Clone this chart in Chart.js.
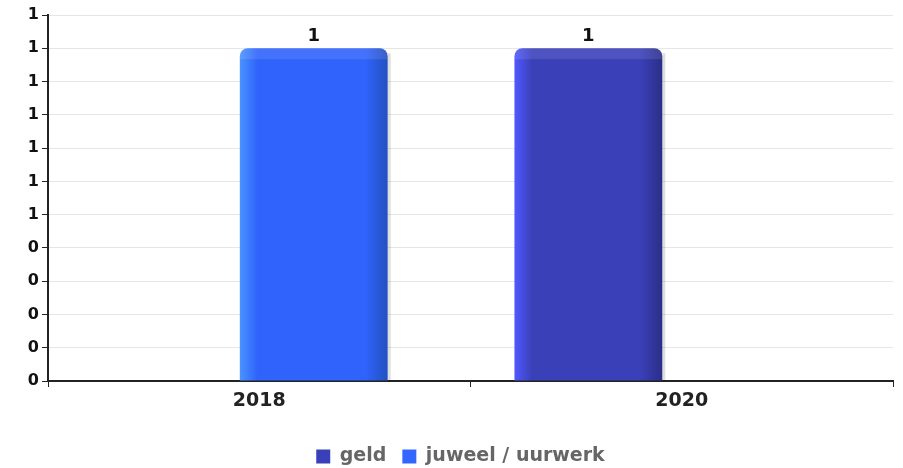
<!DOCTYPE html>
<html><head><meta charset="utf-8">
<script src="https://cdn.jsdelivr.net/npm/chart.js@4/dist/chart.umd.min.js"></script>
<style>html,body{margin:0;padding:0;background:#fff}#wrap{width:903px;height:468px}</style>
</head><body><div id="wrap"><canvas id="c" width="903" height="468"></canvas></div>
<script>
const categories = ['2018', '2020'];
const geldValues = [0, 1];
const juweelValues = [1, 0];
const seriesNames = ['geld', 'juweel / uurwerk'];
const yMax = 1.1;
const yStep = 0.1;

const palettes = [
  {main: '#3a40b8', light: '#5058ff', dark: '#2a2e88', legend: '#3a40b8'},
  {main: '#2f63fb', light: '#4b93ff', dark: '#2450c0', legend: '#3366ff'}
];
const CAT_PCT = 0.7;
// groups sit slightly left of their category label in the reference
const GROUP_SHIFT = 0.046;

const toPoints = arr => arr.map((v, i) => ({x: i, y: v}));

function barFill(ctx) {
  const chart = ctx.chart;
  const pal = palettes[ctx.datasetIndex];
  const xs = chart.scales.xb;
  if (!xs || ctx.dataIndex === undefined || !isFinite(xs.getPixelForValue(ctx.dataIndex))) return pal.main;
  const c = xs.getPixelForValue(ctx.dataIndex);
  const catW = xs.getPixelForValue(1) - xs.getPixelForValue(0);
  const w = catW * CAT_PCT / 2;
  const x0 = ctx.datasetIndex === 0 ? c - w : c;
  const g = chart.ctx.createLinearGradient(x0, 0, x0 + w, 0);
  g.addColorStop(0, pal.light);
  g.addColorStop(0.12, pal.main);
  g.addColorStop(0.85, pal.main);
  g.addColorStop(1, pal.dark);
  return g;
}

// soft shadow on the right and a lighter bevel band on top of each bar
const barDecor = {
  id: 'barDecor',
  beforeDatasetsDraw(chart) {
    const ctx = chart.ctx;
    ctx.save();
    ctx.fillStyle = 'rgba(0,0,0,0.13)';
    chart.data.datasets.forEach((ds, i) => {
      chart.getDatasetMeta(i).data.forEach(el => {
        const h = el.base - el.y;
        if (h > 2) ctx.fillRect(el.x + el.width / 2, el.y + 5, 3, h - 5);
      });
    });
    ctx.restore();
  },
  afterDatasetsDraw(chart) {
    const ctx = chart.ctx;
    ctx.save();
    ctx.fillStyle = 'rgba(255,255,255,0.10)';
    chart.data.datasets.forEach((ds, i) => {
      chart.getDatasetMeta(i).data.forEach(el => {
        const h = el.base - el.y;
        if (h > 12) {
          ctx.beginPath();
          ctx.roundRect(el.x - el.width / 2, el.y, el.width, 11, [8, 8, 0, 0]);
          ctx.fill();
        }
      });
    });
    ctx.restore();
  }
};

const valueLabels = {
  id: 'valueLabels',
  afterDatasetsDraw(chart) {
    const ctx = chart.ctx;
    ctx.save();
    ctx.font = 'bold 18px "DejaVu Sans"';
    ctx.fillStyle = '#111';
    ctx.textAlign = 'center';
    ctx.textBaseline = 'bottom';
    chart.data.datasets.forEach((ds, i) => {
      chart.getDatasetMeta(i).data.forEach((el, j) => {
        const v = ds.data[j].y;
        if (v) ctx.fillText(String(Math.round(v)), el.x, el.y - 3);
      });
    });
    ctx.restore();
  }
};

const legendNudge = {
  id: 'legendNudge',
  afterUpdate(chart) {
    if (chart.legend) { chart.legend.left += 14; chart.legend.right += 14; }
  }
};

new Chart(document.getElementById('c'), {
  type: 'bar',
  data: {
    labels: categories,
    datasets: [
      {label: seriesNames[0], data: toPoints(geldValues), xAxisID: 'xb', backgroundColor: barFill, borderRadius: {topLeft: 8, topRight: 8}, borderSkipped: 'bottom'},
      {label: seriesNames[1], data: toPoints(juweelValues), xAxisID: 'xb', backgroundColor: barFill, borderRadius: {topLeft: 8, topRight: 8}, borderSkipped: 'bottom'}
    ]
  },
  options: {
    responsive: false,
    animation: false,
    devicePixelRatio: 1,
    layout: {padding: {top: 15, right: 10, left: 0, bottom: -8}},
    datasets: {bar: {categoryPercentage: CAT_PCT, barPercentage: 1}},
    plugins: {
      legend: {
        position: 'bottom',
        labels: {
          font: {family: 'DejaVu Sans', size: 19, weight: 'bold'},
          color: '#666',
          boxWidth: 14, boxHeight: 14, padding: 16,
          generateLabels(chart) {
            return chart.data.datasets.map((ds, i) => ({
              text: ds.label, fillStyle: palettes[i].legend, strokeStyle: palettes[i].legend,
              lineWidth: 0, datasetIndex: i, fontColor: '#666'
            }));
          }
        }
      },
      tooltip: {enabled: false}
    },
    scales: {
      x: {
        type: 'category',
        offset: true,
        grid: {display: true, drawOnChartArea: false, drawTicks: true, tickLength: 6, tickColor: '#222', offset: true},
        border: {display: true, color: '#222', width: 2},
        ticks: {font: {family: 'DejaVu Sans', size: 19, weight: 'bold'}, color: '#222', padding: 3},
        afterFit(s) { s.height = 50; }
      },
      xb: {
        type: 'linear',
        display: false,
        offset: false,
        grid: {offset: false},
        position: 'bottom',
        min: -0.5 + GROUP_SHIFT,
        max: categories.length - 0.5 + GROUP_SHIFT,
        afterBuildTicks(s) { s.ticks = categories.map((_, i) => ({value: i})); }
      },
      y: {
        min: 0, max: yMax,
        grid: {color: '#e6e6e6', lineWidth: 1, tickLength: 6, tickColor: '#222'},
        border: {display: true, color: '#222', width: 2},
        ticks: {
          stepSize: yStep,
          font: {family: 'DejaVu Sans', size: 16, weight: 'bold'},
          color: '#111', padding: 3,
          callback: v => String(Math.round(v))
        },
        afterFit(s) { s.width = 48; }
      }
    }
  },
  plugins: [barDecor, valueLabels, legendNudge]
});
</script></body></html>
